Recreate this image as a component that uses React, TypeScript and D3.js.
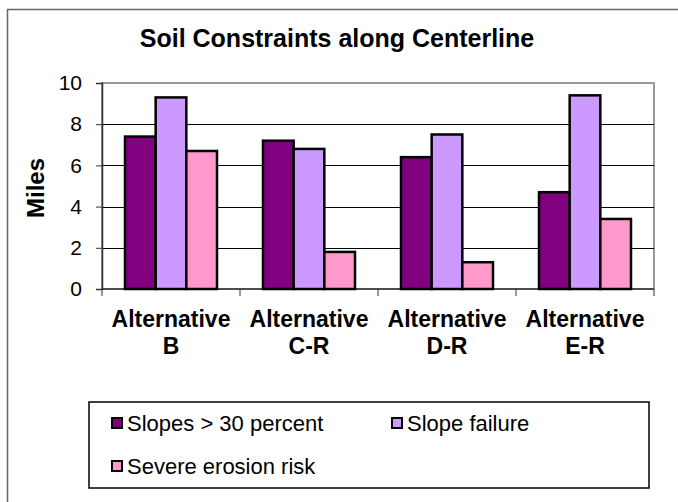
import React, { useEffect, useRef } from 'react';
import * as d3 from 'd3';

const categories = ['Alternative B', 'Alternative C-R', 'Alternative D-R', 'Alternative E-R'];
const seriesNames = ['Slopes > 30 percent', 'Slope failure', 'Severe erosion risk'];
const slopes30 = [7.4, 7.2, 6.4, 4.7];
const slopeFailure = [9.3, 6.8, 7.5, 9.4];
const erosionRisk = [6.7, 1.8, 1.3, 3.4];
const yTicks = [0, 2, 4, 6, 8, 10];
const colors = ['#800080', '#CC99FF', '#FF99CC'];

const FONT = 'Arial, "Liberation Sans", Helvetica, sans-serif';

const App = () => {
  const svgRef = useRef<SVGSVGElement>(null);

  useEffect(() => {
    const width = 678;
    const height = 502;
    const left = 102;
    const right = 654;
    const top = 83;
    const bottom = 289;

    const svg = d3.select(svgRef.current)
      .attr('width', width)
      .attr('height', height)
      .style('font-family', FONT);

    svg.selectAll('*').remove();

    svg.append('rect')
      .attr('width', width).attr('height', height).attr('fill', '#fff');

    // outer chart frame (clipped at right/bottom)
    svg.append('rect')
      .attr('x', 7.5).attr('y', 9.5)
      .attr('width', 700).attr('height', 600)
      .attr('fill', 'none').attr('stroke', '#666').attr('stroke-width', 1.5);

    svg.append('text')
      .attr('x', 337).attr('y', 47)
      .attr('text-anchor', 'middle')
      .attr('font-size', 25).attr('font-weight', 'bold')
      .text('Soil Constraints along Centerline');

    const x0 = d3.scaleBand().domain(categories).range([left, right]).paddingInner(0).paddingOuter(0);
    const x1 = d3.scaleBand().domain(seriesNames).range([0, x0.bandwidth()]).paddingOuter(0.75).paddingInner(0);
    const y = d3.scaleLinear().domain([0, 10]).range([bottom, top]);

    // plot frame
    svg.append('rect')
      .attr('x', left).attr('y', top)
      .attr('width', right - left).attr('height', bottom - top)
      .attr('fill', 'none').attr('stroke', '#999').attr('stroke-width', 2);

    // gridlines
    svg.append('g')
      .selectAll('line')
      .data(yTicks.filter((t) => t > 0 && t < 10))
      .enter()
      .append('line')
      .attr('x1', left).attr('x2', right)
      .attr('y1', (d) => Math.round(y(d)) + 0.5)
      .attr('y2', (d) => Math.round(y(d)) + 0.5)
      .attr('stroke', '#000').attr('stroke-width', 1);

    // y axis
    const yAxis = svg.append('g')
      .attr('transform', `translate(${left},0)`)
      .call(d3.axisLeft(y).tickValues(yTicks).tickSize(6).tickPadding(14));
    yAxis.select('.domain').attr('stroke', '#333').attr('stroke-width', 1.5);
    yAxis.selectAll('.tick line').attr('stroke', '#333');
    yAxis.selectAll('.tick text')
      .attr('font-size', 21).attr('font-family', FONT).attr('fill', '#000');

    // x axis
    const boundaries = d3.range(categories.length + 1).map((i) => left + i * x0.step());
    svg.append('line')
      .attr('x1', left).attr('x2', right)
      .attr('y1', bottom).attr('y2', bottom)
      .attr('stroke', '#333').attr('stroke-width', 1.5);
    svg.append('g')
      .selectAll('line')
      .data(boundaries)
      .enter()
      .append('line')
      .attr('x1', (d) => d).attr('x2', (d) => d)
      .attr('y1', bottom).attr('y2', bottom + 7)
      .attr('stroke', '#333');

    // bars
    const seriesValues = [slopes30, slopeFailure, erosionRisk];
    const groups = svg.append('g')
      .selectAll('g')
      .data(categories)
      .enter()
      .append('g')
      .attr('transform', (d) => `translate(${x0(d)},0)`);

    groups.selectAll('rect')
      .data((d, i) => seriesNames.map((s, k) => ({ s, k, v: seriesValues[k][i] })))
      .enter()
      .append('rect')
      .attr('x', (d) => x1(d.s) as number)
      .attr('y', (d) => y(d.v))
      .attr('width', x1.bandwidth())
      .attr('height', (d) => bottom - y(d.v))
      .attr('fill', (d) => colors[d.k])
      .attr('stroke', '#000')
      .attr('stroke-width', 2.5);

    // category labels
    const labels = svg.append('g')
      .selectAll('text')
      .data(categories)
      .enter()
      .append('text')
      .attr('text-anchor', 'middle')
      .attr('font-size', 23).attr('font-weight', 'bold')
      .attr('x', (d) => (x0(d) as number) + x0.bandwidth() / 2)
      .attr('y', 327);
    labels.append('tspan').text((d) => d.split(' ')[0]);
    labels.append('tspan')
      .attr('x', (d) => (x0(d) as number) + x0.bandwidth() / 2)
      .attr('dy', 27)
      .text((d) => d.split(' ')[1]);

    // y title
    svg.append('text')
      .attr('transform', 'translate(44,188) rotate(-90)')
      .attr('text-anchor', 'middle')
      .attr('font-size', 24).attr('font-weight', 'bold')
      .text('Miles');

    // legend
    svg.append('rect')
      .attr('x', 89).attr('y', 402)
      .attr('width', 560).attr('height', 86)
      .attr('fill', '#fff').attr('stroke', '#000').attr('stroke-width', 1.5);

    const legendPos = [
      { x: 111, y: 423 },
      { x: 391, y: 423 },
      { x: 111, y: 466 },
    ];
    const items = svg.append('g')
      .selectAll('g')
      .data(seriesNames)
      .enter()
      .append('g')
      .attr('transform', (d, i) => `translate(${legendPos[i].x},${legendPos[i].y})`);
    items.append('rect')
      .attr('x', 1).attr('y', -5)
      .attr('width', 10).attr('height', 10)
      .attr('fill', (d, i) => colors[i])
      .attr('stroke', '#000').attr('stroke-width', 2);
    items.append('text')
      .attr('x', 16).attr('y', 8)
      .attr('font-size', 22)
      .text((d) => d);
  }, []);

  return (
    <svg ref={svgRef} style={{ position: 'absolute', left: 0, top: 0 }}></svg>
  );
};

export default App;
